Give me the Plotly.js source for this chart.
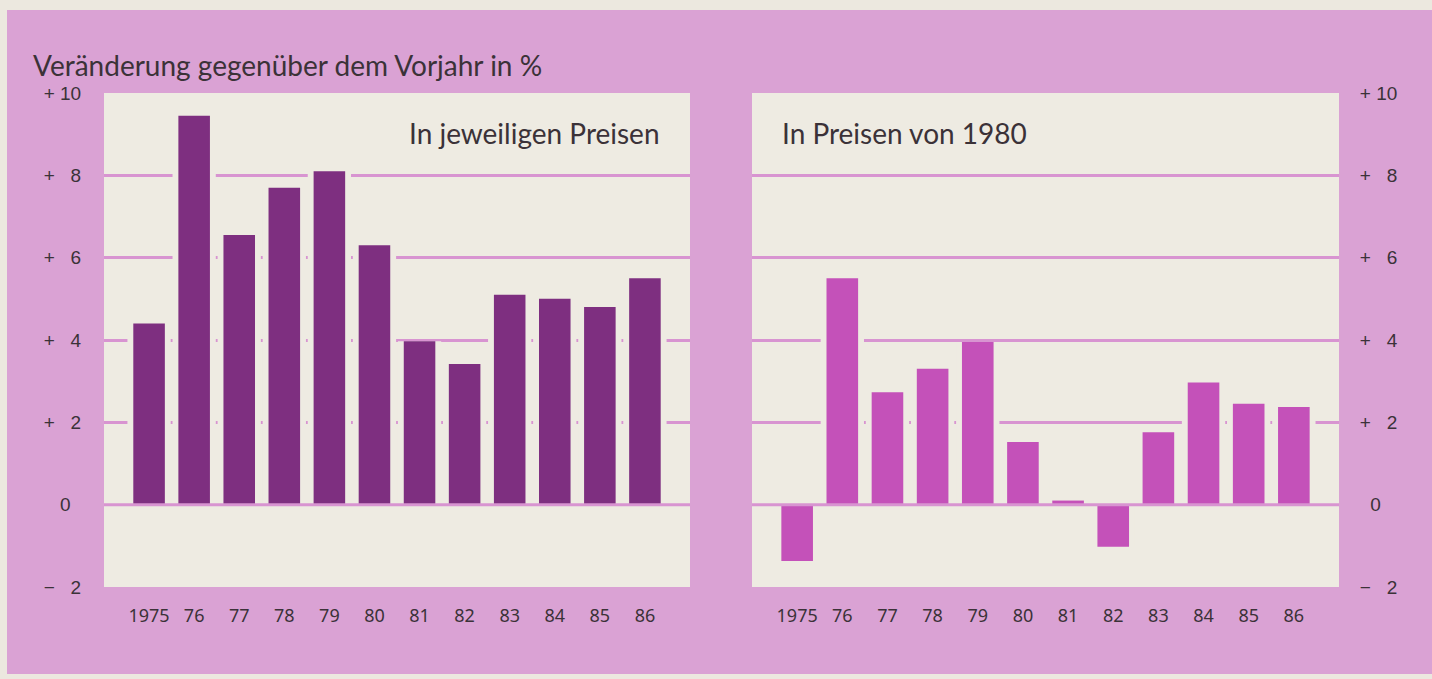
<!DOCTYPE html>
<html>
<head>
<meta charset="utf-8">
<script src="https://cdn.plot.ly/plotly-3.0.1.min.js"></script>
<style>
html,body{margin:0;padding:0;background:#ece8df;width:1432px;height:679px;overflow:hidden;}
#chart{position:absolute;left:7px;top:10px;width:1425px;height:664px;}
</style>
</head>
<body>
<div id="chart"></div>
<script>
const years = ['1975','76','77','78','79','80','81','82','83','84','85','86'];
const nominal = [4.4, 9.45, 6.55, 7.7, 8.1, 6.3, 3.97, 3.42, 5.1, 5.0, 4.8, 5.5];
const real = [-1.37, 5.5, 2.73, 3.3, 3.95, 1.52, 0.1, -1.02, 1.76, 2.97, 2.45, 2.37];
const yTickVals = [-2, 0, 2, 4, 6, 8, 10];
const yTickText = ['\u2212 \u20072', '0\u2007', '+ \u20072', '+ \u20074', '+ \u20076', '+ \u20078', '+ 10'];
const yTickTextRight = ['\u2212 \u20072', '\u20070', '+ \u20072', '+ \u20074', '+ \u20076', '+ \u20078', '+ 10'];
const gridVals = [2, 4, 6, 8];
const mainTitle = 'Veränderung gegenüber dem Vorjahr in %';
const leftTitle = 'In jeweiligen Preisen';
const rightTitle = 'In Preisen von 1980';

const PINK = '#daa2d4';
const GRID = '#d894d1';
const CREAM = '#eeebe2';
const DARK = '#7e2f80';
const LIGHT = '#c451b9';
const TXT = '#3b3238';

const traces = [
  {type:'bar', x: years, y: nominal, xaxis:'x', yaxis:'y', width:0.96,
   marker:{color:CREAM}, hoverinfo:'skip', showlegend:false},
  {type:'bar', x: years, y: nominal, xaxis:'x', yaxis:'y', width:0.7,
   marker:{color:DARK}, name:leftTitle, showlegend:false},
  {type:'bar', x: years, y: real, xaxis:'x2', yaxis:'y2', width:0.96,
   marker:{color:CREAM}, hoverinfo:'skip', showlegend:false},
  {type:'bar', x: years, y: real, xaxis:'x2', yaxis:'y2', width:0.7,
   marker:{color:LIGHT}, name:rightTitle, showlegend:false}
];

const xCommon = {
  type:'category', range:[-1, 12], showgrid:false, zeroline:false, showline:false,
  ticks:'outside', ticklen:12, tickcolor:'rgba(0,0,0,0)',
  tickfont:{family:'Noto Sans', size:18, color:TXT}, fixedrange:true
};
const yCommon = {
  range:[-2, 10], showgrid:false, zeroline:false, showline:false,
  tickmode:'array', tickvals:yTickVals,
  ticks:'outside', tickcolor:'rgba(0,0,0,0)',
  tickfont:{family:'Liberation Sans', size:19, color:TXT},
  minor:{tickmode:'array', tickvals:gridVals, showgrid:true, gridcolor:GRID, gridwidth:3, ticks:''},
  fixedrange:true
};

const layout = {
  width:1425, height:664,
  margin:{l:97, r:93, t:83, b:87},
  paper_bgcolor:PINK, plot_bgcolor:CREAM,
  barmode:'overlay',
  showlegend:false,
  title:{text:mainTitle, xref:'container', yref:'container', x:0.0183, xanchor:'left',
         y:0.915, yanchor:'middle', font:{family:'Lato', size:28, color:TXT}},
  xaxis:Object.assign({}, xCommon, {domain:[0, 0.4745], anchor:'y'}),
  xaxis2:Object.assign({}, xCommon, {domain:[0.5247, 1], anchor:'y2'}),
  yaxis:Object.assign({}, yCommon, {anchor:'x', side:'left', ticklen:18, ticktext:yTickText}),
  yaxis2:Object.assign({}, yCommon, {anchor:'x2', side:'right', ticklen:16, ticktext:yTickTextRight}),
  shapes:[
    {type:'line', xref:'x domain', yref:'y', x0:0, x1:1, y0:0, y1:0, layer:'above', line:{color:GRID, width:3}},
    {type:'line', xref:'x2 domain', yref:'y2', x0:0, x1:1, y0:0, y1:0, layer:'above', line:{color:GRID, width:3}}
  ],
  annotations:[
    {text:leftTitle, xref:'x domain', yref:'y domain', x:0.953, y:0.919, xanchor:'right', yanchor:'middle',
     showarrow:false, font:{family:'Lato', size:28, color:TXT}},
    {text:rightTitle, xref:'x2 domain', yref:'y2 domain', x:0.0477, y:0.919, xanchor:'left', yanchor:'middle',
     showarrow:false, font:{family:'Lato', size:28, color:TXT}}
  ]
};

Plotly.newPlot('chart', traces, layout, {displayModeBar:false, staticPlot:true});
</script>
</body>
</html>
